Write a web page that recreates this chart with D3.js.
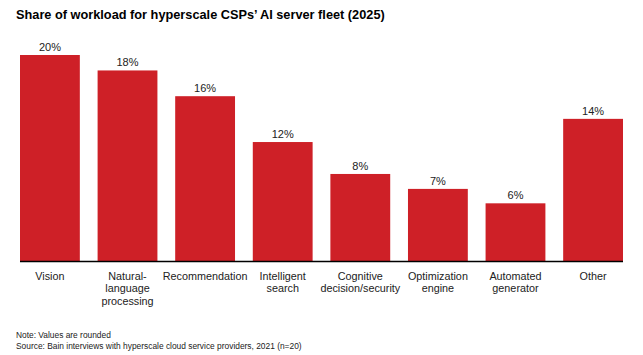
<!DOCTYPE html>
<html><head><meta charset="utf-8">
<script src="https://cdn.jsdelivr.net/npm/d3@7"></script>
<style>body{margin:0;background:#fff;} svg{display:block;font-family:"Liberation Sans",Arial,sans-serif;}</style>
</head><body><svg id="c" width="643" height="355"></svg>
<script>
const categories = [["Vision"],["Natural-","language","processing"],["Recommendation"],["Intelligent","search"],["Cognitive","decision/security"],["Optimization","engine"],["Automated","generator"],["Other"]];
const values = [20, 18.5, 16, 11.55, 8.45, 7.0, 5.6, 13.8];
const valueLabels = ["20%","18%","16%","12%","8%","7%","6%","14%"];
const title = "Share of workload for hyperscale CSPs\u2019 AI server fleet (2025)";
const notes = ["Note: Values are rounded","Source: Bain interviews with hyperscale cloud service providers, 2021 (n=20)"];

const svg = d3.select("#c");
const x = d3.scaleBand().domain(d3.range(categories.length)).range([20, 623]).paddingInner(0.229).paddingOuter(0);
const y = d3.scaleLinear().domain([0, 20]).range([261, 55]);

svg.append("text").attr("x", 16).attr("y", 19).attr("font-size", 12.75).attr("font-weight", "bold").attr("fill", "#000").text(title);

svg.selectAll("rect.bar").data(values).join("rect").attr("class","bar")
  .attr("x", (d,i)=>x(i)).attr("width", x.bandwidth())
  .attr("y", d=>y(d)).attr("height", d=>y(0)-y(d)).attr("fill", "#CE2027");

svg.selectAll("text.val").data(values).join("text").attr("class","val")
  .attr("x", (d,i)=>x(i)+x.bandwidth()/2).attr("y", d=>y(d)-4)
  .attr("text-anchor","middle").attr("font-size", 11).attr("fill","#222")
  .text((d,i)=>valueLabels[i]);

svg.append("line").attr("x1",20).attr("x2",623).attr("y1",261.5).attr("y2",261.5).attr("stroke","#000").attr("stroke-width",1.3);

const cat = svg.selectAll("text.cat").data(categories).join("text").attr("class","cat")
  .attr("text-anchor","middle").attr("font-size",10.8).attr("fill","#222");
cat.each(function(lines,i){
  d3.select(this).selectAll("tspan").data(lines).join("tspan")
    .attr("x", x(i)+x.bandwidth()/2).attr("y",(l,j)=>280+j*12.4).text(l=>l);
});

svg.selectAll("text.note").data(notes).join("text").attr("class","note")
  .attr("x",16).attr("y",(d,i)=>338+i*10.5).attr("font-size",8.4).attr("fill","#222").text(d=>d);
</script></body></html>
